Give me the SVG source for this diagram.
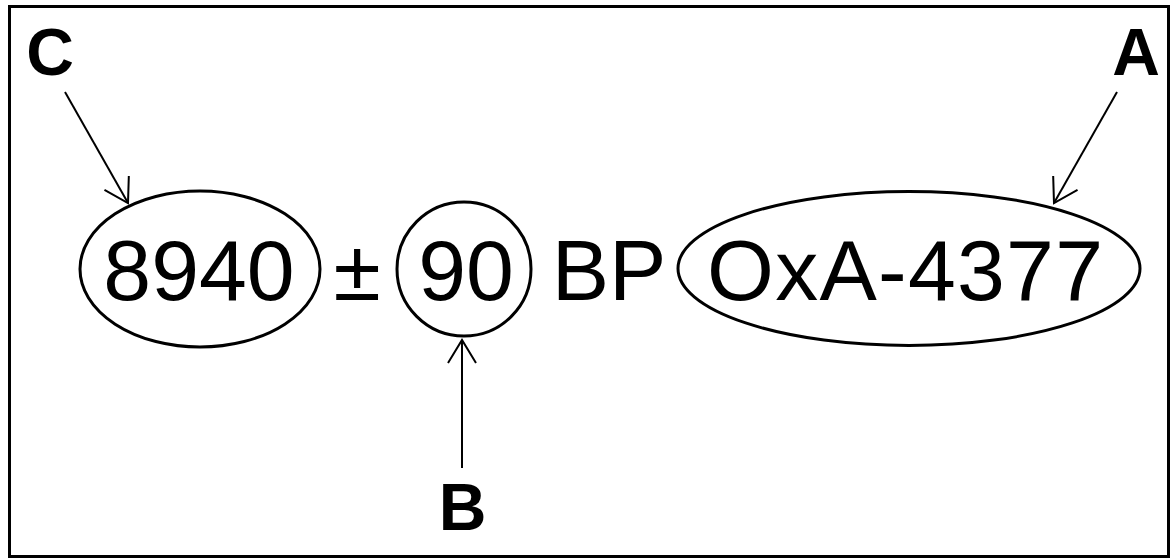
<svg xmlns="http://www.w3.org/2000/svg" width="1173" height="558" viewBox="0 0 1173 558">
  <style>
    .shape { fill: none; stroke: #000; stroke-width: 3; }
    .big { font-family: "Liberation Sans", Arial, sans-serif; font-size: 86px; fill: #000; text-anchor: middle; }
    .lbl { font-family: "Liberation Sans", Arial, sans-serif; font-size: 66px; font-weight: bold; fill: #000; text-anchor: middle; }
    .conn { fill: none; stroke: #000; stroke-width: 2; marker-end: url(#arrow); }
  </style>
  <defs>
    <marker id="arrow" viewBox="-26 -17 28 34" refX="0" refY="0" markerWidth="28" markerHeight="34" markerUnits="userSpaceOnUse" orient="auto">
      <path d="M-23,-14 L0,0 L-23,14" fill="none" stroke="#000" stroke-width="2"/>
    </marker>
  </defs>
  <rect x="0" y="0" width="1173" height="558" fill="#fff"/>
  <rect id="frame" x="9.5" y="6.5" width="1159" height="550" fill="none" stroke="#000" stroke-width="3"/>

  <g id="node-8940">
    <ellipse class="shape" cx="200" cy="269" rx="120" ry="78"/>
    <text class="big" x="199" y="300">8940</text>
  </g>
  <g id="node-pm">
    <text class="big" x="357" y="300">±</text>
  </g>
  <g id="node-90">
    <circle class="shape" cx="464" cy="269" r="67"/>
    <text class="big" x="466" y="300">90</text>
  </g>
  <g id="node-bp">
    <text class="big" x="609" y="300">BP</text>
  </g>
  <g id="node-oxa">
    <ellipse class="shape" cx="909" cy="268.5" rx="231" ry="77"/>
    <text class="big" x="905" y="300" textLength="396" lengthAdjust="spacing">OxA-4377</text>
  </g>
  <g id="label-C">
    <text class="lbl" x="50" y="75">C</text>
  </g>
  <g id="label-A">
    <text class="lbl" x="1136" y="75">A</text>
  </g>
  <g id="label-B">
    <text class="lbl" x="462.5" y="530">B</text>
  </g>

  <g id="connectors">
    <line class="conn" x1="65" y1="92" x2="128" y2="203"/>
    <line class="conn" x1="1117" y1="92" x2="1054" y2="203"/>
    <line class="conn" x1="462" y1="468" x2="462" y2="340"/>
  </g>
</svg>
